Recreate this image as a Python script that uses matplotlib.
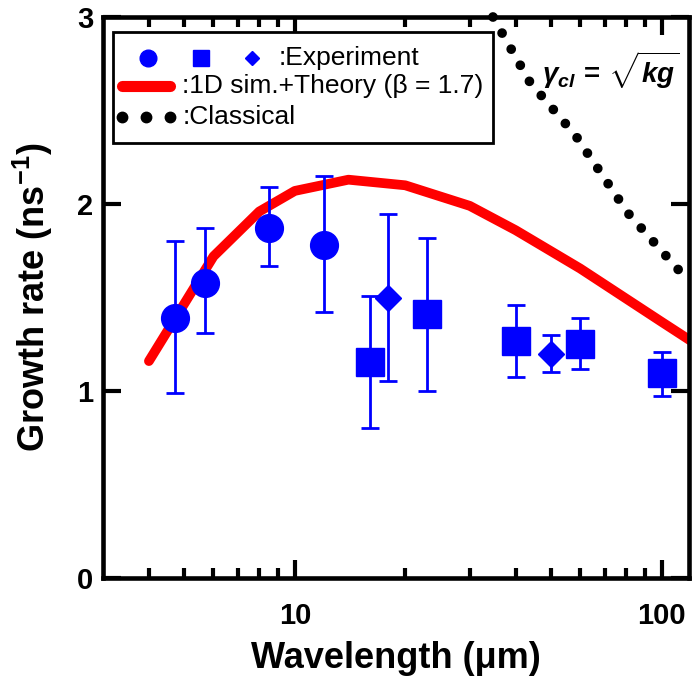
import numpy as np
import matplotlib
matplotlib.use("Agg")
import matplotlib.pyplot as plt
from matplotlib.patches import Rectangle
from matplotlib.ticker import FixedLocator, NullFormatter

plt.rcParams['font.family'] = ['Liberation Sans', 'DejaVu Sans']
plt.rcParams['mathtext.fontset'] = 'custom'
plt.rcParams['mathtext.rm'] = 'Liberation Sans:bold'
plt.rcParams['mathtext.it'] = 'Liberation Sans:italic:bold'
plt.rcParams['mathtext.bf'] = 'Liberation Sans:bold'

# experiment data
circ_x = [4.7, 5.7, 8.5, 12.0]
circ_y = [1.39, 1.58, 1.87, 1.78]
circ_hi = [1.80, 1.87, 2.09, 2.15]
circ_lo = [0.99, 1.31, 1.67, 1.42]

sq_x = [16, 23, 40, 60, 100]
sq_y = [1.155, 1.41, 1.27, 1.25, 1.095]
sq_hi = [1.51, 1.82, 1.46, 1.39, 1.21]
sq_lo = [0.80, 1.00, 1.075, 1.12, 0.975]

dia_x = [18, 50]
dia_y = [1.50, 1.20]
dia_hi = [1.945, 1.30]
dia_lo = [1.055, 1.10]

# 1D sim + theory curve
sim_x = [4, 6, 8, 10, 14, 20, 30, 40, 60, 100, 122]
sim_y = [1.16, 1.72, 1.96, 2.07, 2.13, 2.10, 1.99, 1.86, 1.655, 1.37, 1.26]

# classical growth rate
cl_x = [34.7, 43.8, 58.1, 81.1, 118.8]
cl_y = [3.0, 2.65, 2.37, 1.95, 1.585]

fig = plt.figure(figsize=(6.92, 6.80), dpi=100)
ax = fig.add_axes([0.149, 0.150, 0.847, 0.825])

ax.plot(sim_x, sim_y, color='red', lw=7, solid_capstyle='round', zorder=2)
ax.plot(cl_x, cl_y, color='black', lw=7, linestyle=(0, (0.001, 1.9)),
        dash_capstyle='round', clip_on=False, zorder=2)

def err(y, lo, hi):
    y = np.array(y)
    return [y - np.array(lo), np.array(hi) - y]

ebkw = dict(color='blue', ecolor='blue', elinewidth=2, capsize=6.8, capthick=2,
            linestyle='none', zorder=3)
ax.errorbar(circ_x, circ_y, yerr=err(circ_y, circ_lo, circ_hi), marker='o', ms=20, **ebkw)
ax.errorbar(sq_x, sq_y, yerr=err(sq_y, sq_lo, sq_hi), marker='s', ms=20, **ebkw)
ax.errorbar(dia_x, dia_y, yerr=err(dia_y, dia_lo, dia_hi), marker='D', ms=13, **ebkw)

ax.set_xscale('log')
ax.set_xlim(3, 119)
ax.set_ylim(0, 3)

ax.xaxis.set_major_locator(FixedLocator([10, 100]))
ax.set_xticklabels(['10', '100'])
ax.xaxis.set_minor_locator(FixedLocator([4, 5, 6, 7, 8, 9, 20, 30, 40, 50, 60, 70, 80, 90]))
ax.xaxis.set_minor_formatter(NullFormatter())
ax.set_yticks([0, 1, 2, 3])
ax.set_yticklabels(['0', '1', '2', '3'])

for s in ax.spines.values():
    s.set_linewidth(3.3)
ax.tick_params(which='both', direction='in', top=True, right=True, width=3)
ax.tick_params(which='major', length=13, labelsize=21)
ax.tick_params(which='minor', length=7)
ax.tick_params(axis='x', which='major', pad=17)
ax.tick_params(axis='y', which='major', pad=7)
for lab in ax.get_xticklabels() + ax.get_yticklabels():
    lab.set_fontweight('bold')

ax.set_xlabel('Wavelength (\u03bcm)', fontsize=26, fontweight='bold')
ax.set_ylabel('Growth rate (ns$^{\\mathbf{-1}}$)', fontsize=26, fontweight='bold')
ax.xaxis.set_label_coords(0.5, -0.112)
ax.yaxis.set_label_coords(-0.082, 0.5)

ax.text(0.749, 0.905, r'$\gamma_{cl}\, =\, \sqrt{kg}$', transform=ax.transAxes,
        fontsize=20, ha='left', va='center')

# legend box drawn by hand, the first row has three markers
tr = ax.transAxes
ax.add_patch(Rectangle((0.017, 0.775), 0.649, 0.198, transform=tr, facecolor='white',
                       edgecolor='black', lw=2, zorder=5))
ax.plot([0.077], [0.927], 'o', ms=12, color='blue', transform=tr, zorder=6)
ax.plot([0.167], [0.927], 's', ms=11.5, color='blue', transform=tr, zorder=6)
ax.plot([0.254], [0.927], 'D', ms=7.6, color='blue', transform=tr, zorder=6)
ax.plot([0.032, 0.114], [0.877, 0.877], color='red', lw=8, solid_capstyle='round',
        transform=tr, zorder=6)
ax.plot([0.032, 0.073, 0.114], [0.822] * 3, 'o', ms=7.5, color='black', transform=tr, zorder=6)
ax.text(0.299, 0.927, ':Experiment', transform=tr, fontsize=19, va='center', zorder=7)
ax.text(0.135, 0.877, ':1D sim.+Theory (\u03b2 = 1.7)', transform=tr, fontsize=19,
        va='center', zorder=7)
ax.text(0.135, 0.822, ':Classical', transform=tr, fontsize=19, va='center', zorder=7)

fig.savefig('out.png', dpi=100)
